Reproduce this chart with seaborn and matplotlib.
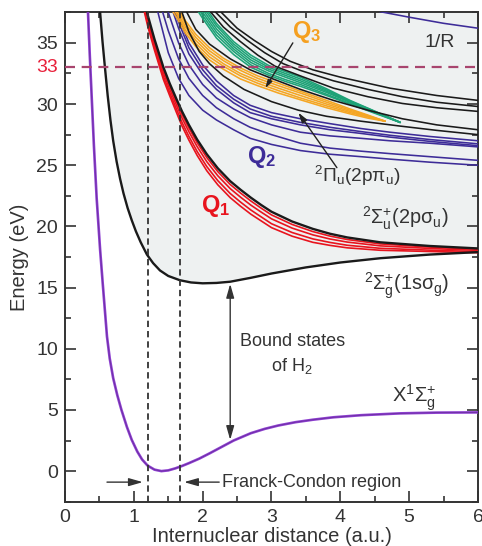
import numpy as np
import pandas as pd
import matplotlib
matplotlib.use("Agg")
import matplotlib.pyplot as plt
import seaborn as sns
from matplotlib.ticker import MultipleLocator

# ---------------- data ----------------
# Ground state of H2, X 1Sigma_g+
R_X = [0.32, 0.334, 0.36, 0.39, 0.42, 0.46, 0.51, 0.55, 0.58, 0.61, 0.65, 0.7, 0.76, 0.82, 0.9, 0.97,
       1.05, 1.12, 1.2, 1.3, 1.4, 1.5, 1.6, 1.7, 1.8, 1.95, 2.1, 2.25, 2.45, 2.7, 2.9, 3.1, 3.35,
       3.6, 3.9, 4.3, 4.87, 5.4, 6.0]
E_X = [39.5, 37.5, 34.0, 30.3, 26.6, 22.3, 18.1, 15.2, 13.1, 11.0, 9.2, 7.6, 6.2, 5.0, 3.6, 2.55,
       1.6, 0.95, 0.45, 0.12, 0.0, 0.06, 0.22, 0.42, 0.65, 1.02, 1.45, 1.9, 2.5, 3.1, 3.45, 3.73, 4.0,
       4.2, 4.4, 4.57, 4.72, 4.78, 4.8]

# H2+ 1s sigma_g
R_1SG = [0.49, 0.51, 0.545, 0.58, 0.62, 0.66, 0.7, 0.75, 0.8, 0.85, 0.91, 0.97, 1.03, 1.1, 1.19, 1.28,
         1.38, 1.5, 1.67, 1.83, 2.0, 2.2, 2.4, 2.7, 3.0, 3.5, 4.0, 4.58, 5.3, 6.0]
E_1SG = [38.8, 37.5, 35.1, 33.0, 30.7, 28.7, 27.0, 25.3, 23.9, 22.7, 21.5, 20.5, 19.6, 18.7, 17.7, 17.0,
         16.4, 15.95, 15.6, 15.42, 15.35, 15.38, 15.48, 15.8, 16.15, 16.65, 17.05, 17.4, 17.7, 17.9]

# H2+ 2p sigma_u and Q1 doubly excited states (shared grid)
R_RED = [1.1, 1.2, 1.3, 1.43, 1.52, 1.62, 1.7, 1.8, 1.92, 2.06, 2.22, 2.4, 2.55, 2.7, 2.85, 3.0,
         3.3, 3.6, 3.85, 4.1, 4.58, 5.3, 6.0]
E_2PSU = [39.6, 37.3, 35.3, 33.0, 31.7, 30.4, 29.4, 28.3, 27.1, 25.9, 24.75, 23.7, 23.0, 22.35, 21.75, 21.2,
          20.4, 19.8, 19.4, 19.1, 18.7, 18.4, 18.2]
E_Q1_A = [39.44, 37.12, 35.12, 32.8, 31.5, 30.18, 29.16, 28.05, 26.84, 25.63, 24.48, 23.43, 22.73, 22.08,
          21.49, 20.94, 20.16, 19.58, 19.21, 18.93, 18.57, 18.31, 18.13]
E_Q1_B = [39.24, 36.9, 34.9, 32.55, 31.25, 29.9, 28.86, 27.74, 26.52, 25.29, 24.14, 23.09, 22.39, 21.74,
          21.17, 20.62, 19.86, 19.31, 18.97, 18.72, 18.41, 18.2, 18.04]
E_Q1_C = [39.0, 36.62, 34.62, 32.25, 30.95, 29.58, 28.5, 27.36, 26.12, 24.89, 23.74, 22.69, 21.99, 21.34,
          20.78, 20.22, 19.5, 18.98, 18.69, 18.46, 18.21, 18.06, 17.94]
E_Q1_D = [38.8, 36.4, 34.4, 32.0, 30.7, 29.3, 28.2, 27.05, 25.8, 24.55, 23.4, 22.35, 21.65, 21.0,
          20.45, 19.9, 19.2, 18.7, 18.45, 18.25, 18.05, 17.95, 17.85]

# Q2 doubly excited states (shared grid)
R_BLUE = [1.2, 1.35, 1.5, 1.65, 1.8, 2.0, 2.2, 2.45, 2.69, 3.0, 3.42, 3.85, 4.3, 4.72, 5.3, 6.0]
E_Q2_A = [41.2, 37.5, 34.2, 32.1, 30.7, 29.5, 28.7, 27.9, 27.2, 26.7, 26.2, 25.9, 25.7, 25.5, 25.25, 25.0]
E_Q2_B = [41.9, 38.8, 36.0, 33.7, 32.1, 30.7, 29.7, 28.8, 28.1, 27.5, 26.8, 26.4, 26.15, 25.95, 25.7, 25.4]
E_Q2_C = [42.6, 40.0, 37.5, 35.0, 33.2, 31.6, 30.5, 29.6, 28.9, 28.3, 27.7, 27.4, 27.2, 27.0, 26.8, 26.5]
E_Q2_D = [43.8, 41.2, 38.7, 36.2, 34.1, 32.4, 31.2, 30.1, 29.3, 28.8, 28.3, 27.9, 27.6, 27.3, 26.95, 26.6]
E_Q2_E = [44.2, 41.4, 39.0, 36.7, 34.6, 32.8, 31.5, 30.4, 29.6, 29.0, 28.5, 28.1, 27.75, 27.45, 27.1, 26.75]
E_Q2_F = [44.5, 41.5, 39.2, 37.1, 35.0, 33.2, 31.9, 30.7, 29.9, 29.3, 28.8, 28.4, 28.0, 27.7, 27.35, 27.0]

# Coulomb explosion curve 1/R
R_COUL = [4.4, 4.58, 5.0, 5.5, 6.0]
E_COUL = [37.9, 37.55, 37.1, 36.6, 36.2]

# Q3 doubly excited states (orange, shared grid)
R_ORANGE = [1.55, 1.63, 1.75, 1.9, 2.1, 2.3, 2.55, 2.8, 3.1, 3.42, 3.8, 4.14, 4.4, 4.65]
E_Q3_A = [37.7, 37.0, 35.8, 34.7, 33.6, 32.85, 32.05, 31.5, 30.9, 30.35, 29.7, 29.2, 28.85, 28.6]
E_Q3_B = [38.0, 37.3, 36.05, 34.95, 33.85, 33.1, 32.3, 31.7, 31.1, 30.5, 29.85, 29.3, 28.95, 28.6]
E_Q3_C = [38.2, 37.5, 36.3, 35.2, 34.1, 33.3, 32.5, 31.9, 31.3, 30.7, 30.0, 29.4, 29.0, 28.6]
E_Q3_D = [38.5, 37.8, 36.55, 35.45, 34.35, 33.55, 32.75, 32.1, 31.5, 30.9, 30.15, 29.5, 29.05, 28.6]
E_Q3_E = [38.7, 38.0, 36.8, 35.7, 34.6, 33.75, 32.95, 32.3, 31.7, 31.05, 30.3, 29.6, 29.1, 28.6]

# higher Q3 states (green, shared grid)
R_GREEN = [1.92, 2.0, 2.2, 2.45, 2.7, 2.96, 3.2, 3.42, 3.8, 4.14, 4.5, 4.87]
E_G_A = [37.7, 37.0, 35.4, 34.05, 33.0, 32.35, 31.85, 31.45, 30.7, 30.0, 29.25, 28.5]
E_G_B = [37.95, 37.25, 35.65, 34.3, 33.2, 32.5, 32.0, 31.6, 30.8, 30.05, 29.3, 28.5]
E_G_C = [38.2, 37.5, 35.9, 34.5, 33.4, 32.7, 32.2, 31.75, 30.95, 30.15, 29.35, 28.5]
E_G_D = [38.45, 37.75, 36.15, 34.7, 33.6, 32.85, 32.35, 31.9, 31.05, 30.2, 29.38, 28.5]
E_G_E = [38.7, 38.0, 36.4, 34.9, 33.8, 33.0, 32.5, 32.05, 31.15, 30.25, 29.4, 28.5]
E_G_F = [38.95, 38.25, 36.6, 35.1, 34.0, 33.15, 32.65, 32.2, 31.25, 30.3, 29.42, 28.5]

# excited ionic states (black)
R_2PPU = [1.62, 1.7, 1.8, 1.95, 2.1, 2.3, 2.6, 3.0, 3.39, 3.8, 4.3, 4.87, 5.4, 6.0]
E_2PPU = [39.0, 37.5, 35.9, 34.3, 33.3, 32.3, 31.2, 30.2, 29.5, 29.0, 28.6, 28.2, 27.85, 27.5]
R_K3 = [1.7, 1.77, 1.9, 2.1, 2.4, 2.69, 3.0, 3.42, 3.9, 4.4, 4.9, 5.4, 6.0]
E_K3 = [38.6, 37.5, 36.1, 34.9, 33.7, 32.8, 32.1, 31.2, 30.3, 29.5, 28.8, 28.3, 27.9]
R_K4 = [2.05, 2.12, 2.3, 2.55, 2.8, 3.05, 3.42, 3.9, 4.4, 4.9, 5.4, 6.0]
E_K4 = [38.3, 37.5, 36.3, 35.1, 34.0, 33.1, 32.3, 31.3, 30.6, 30.05, 29.7, 29.4]
R_K5 = [2.12, 2.19, 2.4, 2.65, 2.9, 3.17, 3.42, 3.9, 4.4, 4.9, 5.4, 6.0]
E_K5 = [38.3, 37.5, 36.3, 35.2, 34.2, 33.3, 32.75, 31.9, 31.2, 30.6, 30.15, 29.8]
R_K6 = [2.2, 2.27, 2.5, 2.75, 3.0, 3.27, 3.6, 4.0, 4.72, 5.4, 6.0]
E_K6 = [38.3, 37.5, 36.2, 35.2, 34.3, 33.5, 32.8, 32.2, 31.3, 30.7, 30.3]

E_LINE = 33
FC_BOUNDS = [1.2, 1.67]
BOUND_ARROW = [2.4, 2.55, 15.3]   # R, lower E, upper E
X_TICKS = [0, 1, 2, 3, 4, 5, 6]
Y_TICKS = [0, 5, 10, 15, 20, 25, 30, 35]

# ---------------- long table ----------------
curves = [
    ("X", "purple", R_X, E_X),
    ("1sg", "main", R_1SG, E_1SG),
    ("2psu", "main", R_RED, E_2PSU),
    ("q1a", "red", R_RED, E_Q1_A), ("q1b", "red", R_RED, E_Q1_B),
    ("q1c", "red", R_RED, E_Q1_C), ("q1d", "red", R_RED, E_Q1_D),
    ("q2a", "blue", R_BLUE, E_Q2_A), ("q2b", "blue", R_BLUE, E_Q2_B),
    ("q2c", "blue", R_BLUE, E_Q2_C), ("q2d", "blue", R_BLUE, E_Q2_D),
    ("q2e", "blue", R_BLUE, E_Q2_E), ("q2f", "blue", R_BLUE, E_Q2_F),
    ("coul", "blue", R_COUL, E_COUL),
    ("q3a", "orange", R_ORANGE, E_Q3_A), ("q3b", "orange", R_ORANGE, E_Q3_B),
    ("q3c", "orange", R_ORANGE, E_Q3_C), ("q3d", "orange", R_ORANGE, E_Q3_D),
    ("q3e", "orange", R_ORANGE, E_Q3_E),
    ("ga", "green", R_GREEN, E_G_A), ("gb", "green", R_GREEN, E_G_B),
    ("gc", "green", R_GREEN, E_G_C), ("gd", "green", R_GREEN, E_G_D),
    ("ge", "green", R_GREEN, E_G_E), ("gf", "green", R_GREEN, E_G_F),
    ("2ppu", "black", R_2PPU, E_2PPU), ("k3", "black", R_K3, E_K3),
    ("k4", "black", R_K4, E_K4), ("k5", "black", R_K5, E_K5),
    ("k6", "black", R_K6, E_K6),
]
rows = []
for name, fam, rr, ee in curves:
    for r, e in zip(rr, ee):
        rows.append({"curve": name, "family": fam, "R": r, "E": e})
df = pd.DataFrame(rows)

style = {
    "purple": ("#8d3fd0", 1.9, 3),
    "main": ("#1a1a1a", 1.7, 4),
    "red": ("#e8141e", 1.2, 3),
    "blue": ("#3d2c98", 1.15, 3),
    "orange": ("#f5a623", 1.15, 3),
    "green": ("#1ea277", 1.15, 3),
    "black": ("#1a1a1a", 1.15, 3),
}

# ---------------- figure ----------------
sns.set_theme(style="ticks")
plt.rcParams["font.family"] = ["Liberation Sans", "DejaVu Sans"]
plt.rcParams.update({
    "mathtext.fontset": "custom",
    "mathtext.rm": "Liberation Sans",
    "mathtext.it": "Liberation Sans:italic",
    "mathtext.bf": "Liberation Sans:bold",
    "mathtext.sf": "Liberation Sans",
})

fig = plt.figure(figsize=(4.82, 5.46), dpi=100)
ax = fig.add_axes([65 / 482, 1 - 501.7 / 546, 413 / 482, 489.4 / 546])
ax.set_facecolor("white")

ax.fill_between(R_1SG, E_1SG, 40, color="#eef1f1", lw=0, zorder=0)

order = ["blue", "orange", "green", "black", "red", "main", "purple"]
for fam in order:
    col, lw, z = style[fam]
    sub = df[df["family"] == fam]
    sns.lineplot(data=sub, x="R", y="E", units="curve", estimator=None, sort=False,
                 color=col, lw=lw, ax=ax, legend=False, zorder=z)

# thin dark trace on the ground-state curve
sns.lineplot(data=df[df["curve"] == "X"], x="R", y="E", estimator=None, sort=False,
             color="#3a1458", lw=0.5, ax=ax, legend=False, zorder=4, alpha=0.45)

ax.axhline(E_LINE, color="#a8456e", lw=1.6, dashes=(4.5, 3), zorder=6)
for xv in FC_BOUNDS:
    ax.axvline(xv, color="#333333", lw=1.3, dashes=(3.5, 2.2), zorder=5)

ax.set_xlim(0, 6)
ax.set_ylim(-2.5, 37.5)
ax.set_xticks(X_TICKS)
ax.set_yticks(Y_TICKS)
ax.xaxis.set_minor_locator(MultipleLocator(0.5))
ax.yaxis.set_minor_locator(MultipleLocator(2.5))
ax.tick_params(which="both", direction="in", top=True, right=True, colors="#333333",
               labelsize=14, width=1.2)
ax.tick_params(which="major", length=8, pad=5)
ax.tick_params(which="minor", length=4.5)
for sp in ax.spines.values():
    sp.set_linewidth(1.4)
    sp.set_color("#333333")
    sp.set_visible(True)

ax.set_xlabel("Internuclear distance (a.u.)", fontsize=14.5, color="#333333", labelpad=1)
ax.set_ylabel("Energy (eV)", fontsize=14.5, color="#333333", labelpad=5)

ax.annotate(str(E_LINE), xy=(0, E_LINE), xycoords=ax.get_yaxis_transform(),
            xytext=(-5, 0), textcoords="offset points", ha="right", va="center",
            color="#e8203a", fontsize=14)

# arrows
ax.annotate("", xy=(BOUND_ARROW[0], BOUND_ARROW[2]), xytext=(BOUND_ARROW[0], BOUND_ARROW[1]),
            arrowprops=dict(arrowstyle="<|-|>,head_length=0.7,head_width=0.2", color="#333333",
                            lw=1.0, shrinkA=0, shrinkB=0), zorder=7)
ax.annotate("", xy=(1.13, -0.9), xytext=(0.61, -0.9),
            arrowprops=dict(arrowstyle="-|>,head_length=0.7,head_width=0.2", color="#333333",
                            lw=1.0, shrinkA=0, shrinkB=0))
ax.annotate("", xy=(1.73, -0.9), xytext=(2.24, -0.9),
            arrowprops=dict(arrowstyle="-|>,head_length=0.7,head_width=0.2", color="#333333",
                            lw=1.0, shrinkA=0, shrinkB=0))
ax.annotate("", xy=(2.91, 31.3), xytext=(3.31, 35.0),
            arrowprops=dict(arrowstyle="-|>,head_length=0.4,head_width=0.12", color="#222222",
                            lw=1.0, shrinkA=0, shrinkB=0), zorder=8)
ax.annotate("", xy=(3.39, 29.3), xytext=(3.95, 24.8),
            arrowprops=dict(arrowstyle="-|>,head_length=0.5,head_width=0.15", color="#222222",
                            lw=1.0, shrinkA=0, shrinkB=0), zorder=8)

# texts
tc = "#333333"
ax.text(3.3, 35.4, r"$\mathbf{Q}_{\mathbf{3}}$", color="#f5a020", fontsize=17, ha="left", va="baseline", zorder=9)
ax.text(2.65, 25.2, r"$\mathbf{Q}_{\mathbf{2}}$", color="#3d2c98", fontsize=17, ha="left", va="baseline", zorder=9)
ax.text(1.98, 21.2, r"$\mathbf{Q}_{\mathbf{1}}$", color="#e8141e", fontsize=17, ha="left", va="baseline", zorder=9)
ax.text(3.62, 23.6, r"$^{2}\Pi_{\mathrm{u}}(\mathrm{2p}\mathrm{\pi}_{\mathrm{u}})$", color=tc, fontsize=13.8, ha="left", va="baseline")
ax.text(4.32, 20.2, r"$^{2}\Sigma_{\mathrm{u}}^{+}(\mathrm{2p}\mathrm{\sigma}_{\mathrm{u}})$", color=tc, fontsize=14.3, ha="left", va="baseline")
ax.text(4.35, 14.8, r"$^{2}\Sigma_{\mathrm{g}}^{+}(\mathrm{1s}\mathrm{\sigma}_{\mathrm{g}})$", color=tc, fontsize=14.3, ha="left", va="baseline")
ax.text(4.75, 5.6, r"$\mathrm{X}^{1}\Sigma_{\mathrm{g}}^{+}$", color=tc, fontsize=14.5, ha="left", va="baseline")
ax.text(5.23, 34.7, "1/R", color=tc, fontsize=14, ha="left", va="baseline")
ax.text(3.3, 10.2, "Bound states", color=tc, fontsize=13, ha="center", va="baseline")
ax.text(3.3, 8.2, r"of H$_2$", color=tc, fontsize=13, ha="center", va="baseline")
ax.text(2.28, -0.9, "Franck-Condon region", color=tc, fontsize=13, ha="left", va="center")

fig.savefig("out.png", dpi=100)
